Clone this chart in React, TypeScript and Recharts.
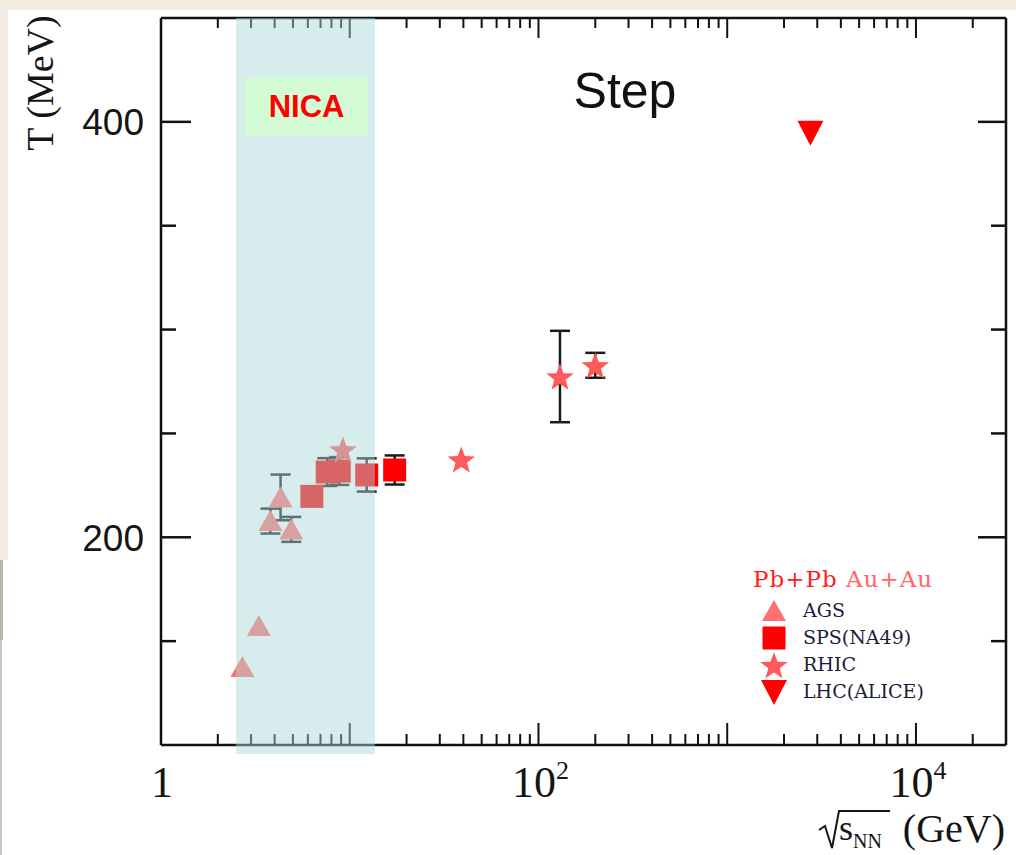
import React from 'react'
import { ScatterChart, Scatter, XAxis, YAxis, ErrorBar, ReferenceArea, Legend } from 'recharts'

// sqrt(s_NN) in GeV, T in MeV, symmetric error in MeV
const AGS_E = [2.7, 3.3, 3.8, 4.3, 4.9]
const AGS_T = [137.6, 157.3, 207.8, 219.2, 203.8]
const AGS_ERR = [0, 0, 6, 11, 6]

const SPS_E = [6.3, 7.6, 8.8, 12.3, 17.3]
const SPS_T = [219.7, 231.4, 231.9, 230, 232.4]
const SPS_ERR = [0, 6.7, 6.7, 8, 7]

const RHIC_E = [9.2, 39, 130, 200]
const RHIC_T = [242.3, 237.5, 277.4, 282.8]
const RHIC_ERR = [0, 0, 22, 6]

const LHC_E = [2760]
const LHC_T = [394.7]
const LHC_ERR = [0]

const SERIES_ORDER = ['AGS', 'SPS(NA49)', 'RHIC', 'LHC(ALICE)']

const X_TICKS = [
  1, 2, 3, 4, 5, 6, 7, 8, 9,
  10, 20, 30, 40, 50, 60, 70, 80, 90,
  100, 200, 300, 400, 500, 600, 700, 800, 900,
  1000, 2000, 3000, 4000, 5000, 6000, 7000, 8000, 9000,
  10000, 20000,
]
const X_DECADES = [1, 10, 100, 1000, 10000]
const X_LABELS: Record<number, [string, string]> = { 1: ['1', ''], 100: ['10', '2'], 10000: ['10', '4'] }
const Y_TICKS = [150, 200, 250, 300, 350, 400]
const Y_LABELED = [200, 400]

const NICA_BAND = [2.5, 13.6]
const NICA_BOX_X = [2.79, 12.5]
const NICA_BOX_T = [393.5, 421.5]

const COLORS: Record<string, string> = {
  AGS: '#ff7171', 'SPS(NA49)': '#ff0000', RHIC: '#ff5a5a', 'LHC(ALICE)': '#ff0000',
}

const toRows = (e: number[], t: number[], err: number[]) => e.map((v, i) => ({ e: v, t: t[i], err: err[i] }))

// marker shapes
const triUp = (cx: number, cy: number, fill: string) => (
  <polygon points={`${cx},${cy - 11} ${cx + 12},${cy + 10} ${cx - 12},${cy + 10}`} fill={fill} />
)
const triDown = (cx: number, cy: number, fill: string) => (
  <polygon points={`${cx - 13},${cy - 12} ${cx + 13},${cy - 12} ${cx},${cy + 13}`} fill={fill} />
)
const square = (cx: number, cy: number, fill: string) => (
  <rect x={cx - 11.5} y={cy - 11.5} width={23} height={23} fill={fill} />
)
const star = (cx: number, cy: number, fill: string) => {
  const pts: string[] = []
  for (let i = 0; i < 10; i++) {
    const r = i % 2 === 0 ? 14.5 : 6
    const a = -Math.PI / 2 + (i * Math.PI) / 5
    pts.push(`${cx + r * Math.cos(a)},${cy + 1.5 + r * Math.sin(a)}`)
  }
  return <polygon points={pts.join(' ')} fill={fill} />
}
const MARKERS: Record<string, (cx: number, cy: number, fill: string) => React.ReactElement> = {
  AGS: triUp, 'SPS(NA49)': square, RHIC: star, 'LHC(ALICE)': triDown,
}
const shapeFor = (name: string) => (p: any) => MARKERS[name](p.cx, p.cy, COLORS[name])

// ticks (drawn inward, like the ROOT-style frame)
const XTickBottom = ({ x, y, payload }: any) => {
  const v = payload.value
  const len = X_DECADES.includes(v) ? 22 : 11
  const lab = X_LABELS[v]
  return (
    <g>
      <line x1={x} x2={x} y1={y} y2={y - len} stroke="#111" strokeWidth={2} />
      {lab && (
        <text x={x + (lab[1] ? 2 : 1)} y={y + 52} textAnchor="middle" fontFamily="Liberation Serif" fontSize={44} fill="#151515">
          {lab[0]}
          {lab[1] && <tspan dy={-18} fontSize={26}>{lab[1]}</tspan>}
        </text>
      )}
    </g>
  )
}
const XTickTop = ({ x, y, payload }: any) => {
  const len = X_DECADES.includes(payload.value) ? 20 : 10
  return <line x1={x} x2={x} y1={y} y2={y + len} stroke="#111" strokeWidth={2} />
}
const YTickLeft = ({ x, y, payload }: any) => {
  const labeled = Y_LABELED.includes(payload.value)
  return (
    <g>
      <line x1={x} x2={x + (labeled ? 30 : 15)} y1={y} y2={y} stroke="#111" strokeWidth={2.5} />
      {labeled && (
        <text x={x - 17} y={y} dy="0.36em" textAnchor="end" fontFamily="Liberation Sans" fontSize={37} fill="#151515">
          {payload.value}
        </text>
      )}
    </g>
  )
}
const YTickRight = ({ x, y, payload }: any) => {
  const len = Y_LABELED.includes(payload.value) ? 28 : 15
  return <line x1={x} x2={x - len} y1={y} y2={y} stroke="#111" strokeWidth={2.5} />
}

const renderLegend = ({ payload }: any) => {
  const items = [...(payload || [])].sort(
    (a: any, b: any) => SERIES_ORDER.indexOf(a.value) - SERIES_ORDER.indexOf(b.value),
  )
  return (
    <svg width={270} height={150}>
      <text x={13} y={27} fontFamily="DejaVu Serif" fontSize={23} letterSpacing={1}>
        <tspan fill="#ff1c1c">Pb+Pb</tspan>
        <tspan fill="#ff6666"> Au+Au</tspan>
      </text>
      {items.map((entry: any, i: number) => {
        const name = entry.value
        const cy = 51 + i * 27
        return (
          <g key={name}>
            {MARKERS[name](34, cy, COLORS[name])}
            <text x={63} y={cy + 6} fontFamily="DejaVu Serif" fontSize={19} fill="#1c1c3a">{name}</text>
          </g>
        )
      })}
    </svg>
  )
}

const NicaLabel = ({ viewBox }: any) => (
  <text
    x={viewBox.x + viewBox.width / 2} y={viewBox.y + viewBox.height / 2 + 11}
    textAnchor="middle" fill="#ff0000" fontSize={31} fontWeight={700} fontFamily="Liberation Sans"
  >
    NICA
  </text>
)

export default function App() {
  return (
    <div style={{ position: 'absolute', left: 0, top: 0, width: 1016, height: 855, background: '#f3eee1', overflow: 'hidden' }}>
      <div style={{ position: 'absolute', left: 8, top: 10, right: 0, bottom: 0, background: '#fff' }} />
      <div style={{ position: 'absolute', left: 0, top: 560, width: 3, height: 80, background: '#bcb7ad' }} />
      <div style={{ position: 'absolute', left: 3, top: 560, width: 5, height: 80, background: '#fff' }} />
      <div style={{ position: 'absolute', left: 0, top: 640, width: 8, bottom: 0, background: '#fff', borderLeft: '2px solid #bccaca', boxSizing: 'border-box' }} />

      <div style={{ position: 'absolute', left: 0, top: 0 }}>
        <ScatterChart width={1016} height={855} margin={{ top: 17, right: 9, bottom: 109, left: 160 }}>
          <XAxis
            dataKey="e" type="number" scale="log" domain={[1, 30000]} allowDataOverflow
            ticks={X_TICKS} interval={0} height={1} tickSize={0} tickMargin={0}
            axisLine={{ stroke: '#111', strokeWidth: 2.5 }} tick={<XTickBottom />}
          />
          <XAxis
            xAxisId="top" orientation="top" dataKey="e" type="number" scale="log" domain={[1, 30000]} allowDataOverflow
            ticks={X_TICKS} interval={0} height={1} tickSize={0} tickMargin={0}
            axisLine={{ stroke: '#111', strokeWidth: 2.5 }} tick={<XTickTop />}
          />
          <YAxis
            dataKey="t" type="number" domain={[100, 450]} allowDataOverflow
            ticks={Y_TICKS} interval={0} width={1} tickSize={0} tickMargin={0}
            axisLine={{ stroke: '#111', strokeWidth: 2.5 }} tick={<YTickLeft />}
          />
          <YAxis
            yAxisId="right" orientation="right" dataKey="t" type="number" domain={[100, 450]} allowDataOverflow
            ticks={Y_TICKS} interval={0} width={1} tickSize={0} tickMargin={0}
            axisLine={{ stroke: '#111', strokeWidth: 2.5 }} tick={<YTickRight />}
          />

          <Scatter name="AGS" data={toRows(AGS_E, AGS_T, AGS_ERR)} shape={shapeFor('AGS')} fill={COLORS.AGS} isAnimationActive={false}>
            <ErrorBar dataKey="err" direction="y" width={10} stroke="#1a1a1a" strokeWidth={2.5} />
          </Scatter>
          <Scatter name="SPS(NA49)" data={toRows(SPS_E, SPS_T, SPS_ERR)} shape={shapeFor('SPS(NA49)')} fill={COLORS['SPS(NA49)']} isAnimationActive={false}>
            <ErrorBar dataKey="err" direction="y" width={10} stroke="#1a1a1a" strokeWidth={2.5} />
          </Scatter>
          <Scatter name="RHIC" data={toRows(RHIC_E, RHIC_T, RHIC_ERR)} shape={shapeFor('RHIC')} fill={COLORS.RHIC} isAnimationActive={false}>
            <ErrorBar dataKey="err" direction="y" width={10} stroke="#1a1a1a" strokeWidth={2.5} />
          </Scatter>
          <Scatter name="LHC(ALICE)" data={toRows(LHC_E, LHC_T, LHC_ERR)} shape={shapeFor('LHC(ALICE)')} fill={COLORS['LHC(ALICE)']} isAnimationActive={false}>
            <ErrorBar dataKey="err" direction="y" width={10} stroke="#1a1a1a" strokeWidth={2.5} />
          </Scatter>

          {/* NICA energy range, translucent overlay on top of the points */}
          <ReferenceArea
            x1={NICA_BAND[0]} x2={NICA_BAND[1]} y1={95.7} y2={450} ifOverflow="visible"
            fill="rgb(171,214,214)" fillOpacity={0.47} stroke="none" zIndex={2000}
          />
          <ReferenceArea
            x1={NICA_BOX_X[0]} x2={NICA_BOX_X[1]} y1={NICA_BOX_T[0]} y2={NICA_BOX_T[1]} ifOverflow="visible"
            fill="#d4fcd4" fillOpacity={1} stroke="none" zIndex={2100}
            shape={(p: any) => (
              <g>
                <rect x={p.x} y={p.y} width={p.width} height={p.height} fill="#d4fcd4" />
                <NicaLabel viewBox={p} />
              </g>
            )}
          />

          <Legend
            layout="vertical" align="center" verticalAlign="middle" content={renderLegend}
            wrapperStyle={{ left: 740, top: 560, width: 270, height: 150 }}
          />
        </ScatterChart>
      </div>

      <svg width={1016} height={855} style={{ position: 'absolute', left: 0, top: 0, pointerEvents: 'none' }}>
        <text x={53} y={83} transform="rotate(-90, 53, 83)" textAnchor="middle" fontFamily="Liberation Serif" fontSize={38} fill="#151515">
          T (MeV)
        </text>
        <text x={625} y={108} textAnchor="middle" fontFamily="Liberation Sans" fontSize={50} fill="#111">
          Step
        </text>
        <path d="M819 830 L825 826 L832 848 L839 811 L890 811" fill="none" stroke="#151515" strokeWidth={2} />
        <text x={839} y={840} fontFamily="Liberation Serif" fontSize={36} fill="#151515">
          s<tspan dy={8} fontSize={20}>NN</tspan>
        </text>
        <text x={1005} y={842} textAnchor="end" fontFamily="Liberation Serif" fontSize={40} fill="#151515">
          (GeV)
        </text>
      </svg>
    </div>
  )
}
